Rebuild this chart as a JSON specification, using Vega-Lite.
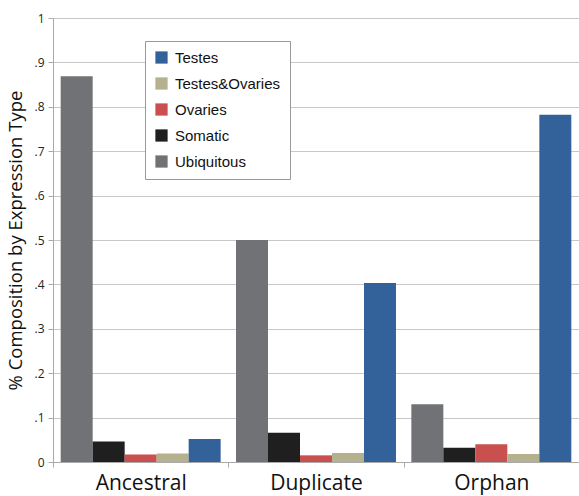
{
  "$schema": "https://vega.github.io/schema/vega-lite/v6.json",
  "width": 526,
  "height": 444,
  "autosize": {"type": "none"},
  "padding": {"left": 53, "top": 18, "right": 0, "bottom": 34},
  "background": "white",
  "data": {
    "values": [
      {"group": "Ancestral", "type": "Ubiquitous", "value": 0.869},
      {"group": "Ancestral", "type": "Somatic", "value": 0.046},
      {"group": "Ancestral", "type": "Ovaries", "value": 0.017},
      {"group": "Ancestral", "type": "Testes&Ovaries", "value": 0.019},
      {"group": "Ancestral", "type": "Testes", "value": 0.052},
      {"group": "Duplicate", "type": "Ubiquitous", "value": 0.500},
      {"group": "Duplicate", "type": "Somatic", "value": 0.066},
      {"group": "Duplicate", "type": "Ovaries", "value": 0.015},
      {"group": "Duplicate", "type": "Testes&Ovaries", "value": 0.02},
      {"group": "Duplicate", "type": "Testes", "value": 0.403},
      {"group": "Orphan", "type": "Ubiquitous", "value": 0.130},
      {"group": "Orphan", "type": "Somatic", "value": 0.032},
      {"group": "Orphan", "type": "Ovaries", "value": 0.040},
      {"group": "Orphan", "type": "Testes&Ovaries", "value": 0.018},
      {"group": "Orphan", "type": "Testes", "value": 0.782}
    ]
  },
  "mark": {"type": "bar"},
  "encoding": {
    "x": {
      "field": "group",
      "type": "nominal",
      "sort": ["Ancestral", "Duplicate", "Orphan"],
      "scale": {"paddingInner": 0, "paddingOuter": 0},
      "axis": {
        "title": null,
        "labelAngle": 0,
        "labelFont": "Open Sans",
        "labelFontSize": 21,
        "labelColor": "#111",
        "labelPadding": 5,
        "tickBand": "extent",
        "tickColor": "#aaa",
        "tickSize": 5,
        "domainColor": "#aaa",
        "grid": false
      }
    },
    "xOffset": {
      "field": "type",
      "type": "nominal",
      "scale": {"domain": ["Ubiquitous", "Somatic", "Ovaries", "Testes&Ovaries", "Testes"], "paddingInner": 0, "paddingOuter": 0.24}
    },
    "y": {
      "field": "value",
      "type": "quantitative",
      "scale": {"domain": [0, 1], "nice": false},
      "axis": {
        "title": "% Composition by Expression Type",
        "titleFont": "Open Sans",
        "titleFontSize": 18.5,
        "titleFontWeight": "normal",
        "titleColor": "#111",
        "titlePadding": 8,
        "values": [0, 0.1, 0.2, 0.3, 0.4, 0.5, 0.6, 0.7, 0.8, 0.9, 1],
        "labelExpr": "datum.value == 0 ? '0' : datum.value >= 1 ? '1' : replace(format(datum.value, '.1f'), '0.', '.')",
        "labelFont": "Open Sans",
        "labelFontSize": 12,
        "labelColor": "#222",
        "labelPadding": 4,
        "tickColor": "#aaa",
        "tickSize": 5,
        "domainColor": "#aaa",
        "gridColor": "#c8c8c8",
        "grid": true
      }
    },
    "color": {
      "field": "type",
      "type": "nominal",
      "scale": {
        "domain": ["Testes", "Testes&Ovaries", "Ovaries", "Somatic", "Ubiquitous"],
        "range": ["#33629b", "#b5b08e", "#c9504f", "#1f1f1f", "#717275"]
      },
      "legend": {
        "title": null,
        "orient": "none",
        "legendX": 92,
        "legendY": 23,
        "symbolType": "square",
        "symbolSize": 150,
        "symbolStrokeWidth": 0,
        "symbolOpacity": 1,
        "labelFont": "Liberation Sans",
        "labelFontSize": 15,
        "labelColor": "#111",
        "labelOffset": 6,
        "rowPadding": 10,
        "padding": 9,
        "strokeColor": "#999",
        "fillColor": "white",
        "labelLimit": 300
      }
    }
  },
  "config": {"view": {"stroke": null}}
}
